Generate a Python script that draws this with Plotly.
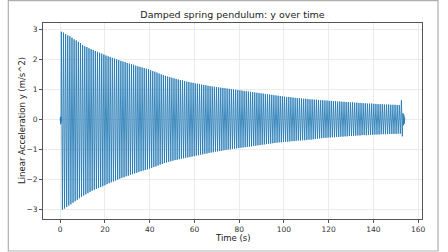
import plotly.graph_objects as go

# --- data ---
title = "Damped spring pendulum: y over time"
x_label = "Time (s)"
y_label = "Linear Acceleration y (m/s^2)"
x_ticks = [0, 20, 40, 60, 80, 100, 120, 140, 160]
y_ticks = [-3, -2, -1, 0, 1, 2, 3]

# start-up samples before oscillation (time, value)
head_t = [0.0, 0.1, 0.2, 0.3, 0.4]
head_y = [-0.05, 0.08, -0.17, 0.06, -0.10]

# oscillation: first peak time and cycle period (s)
first_peak_t = 0.5
cycle_period = 0.95

upper_peaks = [
    2.91, 2.88, 2.83, 2.79, 2.76, 2.71, 2.66, 2.62, 2.57, 2.53,
    2.47, 2.43, 2.40, 2.36, 2.33, 2.30, 2.27, 2.24, 2.21, 2.18,
    2.15, 2.12, 2.09, 2.07, 2.04, 2.02, 1.99, 1.97, 1.94, 1.92,
    1.90, 1.87, 1.85, 1.83, 1.81, 1.78, 1.76, 1.74, 1.72, 1.70,
    1.68, 1.66, 1.63, 1.60, 1.58, 1.55, 1.52, 1.49, 1.47, 1.44,
    1.42, 1.40, 1.38, 1.36, 1.34, 1.32, 1.30, 1.29, 1.27, 1.25,
    1.24, 1.22, 1.21, 1.19, 1.18, 1.17, 1.15, 1.14, 1.13, 1.11,
    1.10, 1.09, 1.08, 1.07, 1.06, 1.05, 1.04, 1.03, 1.02, 1.01,
    1.00, 0.99, 0.98, 0.97, 0.96, 0.95, 0.94, 0.93, 0.92, 0.91,
    0.90, 0.89, 0.88, 0.87, 0.86, 0.85, 0.84, 0.83, 0.82, 0.81,
    0.80, 0.79, 0.78, 0.77, 0.76, 0.75, 0.74, 0.74, 0.73, 0.72,
    0.71, 0.70, 0.70, 0.69, 0.68, 0.68, 0.67, 0.66, 0.66, 0.65,
    0.65, 0.64, 0.63, 0.63, 0.62, 0.62, 0.61, 0.61, 0.60, 0.60,
    0.59, 0.59, 0.58, 0.58, 0.57, 0.57, 0.56, 0.56, 0.55, 0.55,
    0.54, 0.54, 0.53, 0.53, 0.52, 0.52, 0.52, 0.51, 0.51, 0.50,
    0.50, 0.50, 0.49, 0.49, 0.49, 0.48, 0.48, 0.48, 0.47, 0.47,
]
lower_peaks = [
    -3.01, -2.97, -2.92, -2.87, -2.83, -2.78, -2.73, -2.68, -2.63, -2.58,
    -2.54, -2.50, -2.46, -2.42, -2.38, -2.35, -2.32, -2.29, -2.26, -2.23,
    -2.20, -2.16, -2.13, -2.10, -2.07, -2.04, -2.01, -1.98, -1.95, -1.93,
    -1.90, -1.88, -1.85, -1.83, -1.80, -1.78, -1.75, -1.73, -1.71, -1.69,
    -1.67, -1.64, -1.62, -1.59, -1.57, -1.54, -1.51, -1.49, -1.46, -1.44,
    -1.42, -1.40, -1.38, -1.36, -1.35, -1.33, -1.31, -1.30, -1.28, -1.27,
    -1.26, -1.24, -1.23, -1.21, -1.20, -1.18, -1.17, -1.15, -1.14, -1.12,
    -1.11, -1.10, -1.08, -1.07, -1.06, -1.05, -1.03, -1.02, -1.01, -1.00,
    -0.99, -0.98, -0.97, -0.96, -0.95, -0.94, -0.93, -0.92, -0.91, -0.90,
    -0.89, -0.88, -0.87, -0.86, -0.85, -0.84, -0.83, -0.82, -0.81, -0.80,
    -0.79, -0.78, -0.77, -0.77, -0.76, -0.75, -0.75, -0.74, -0.73, -0.73,
    -0.72, -0.71, -0.71, -0.70, -0.70, -0.69, -0.68, -0.68, -0.67, -0.66,
    -0.65, -0.64, -0.63, -0.62, -0.62, -0.61, -0.61, -0.60, -0.60, -0.59,
    -0.59, -0.58, -0.58, -0.57, -0.57, -0.56, -0.56, -0.55, -0.55, -0.54,
    -0.54, -0.53, -0.53, -0.53, -0.52, -0.52, -0.52, -0.51, -0.51, -0.51,
    -0.50, -0.50, -0.50, -0.50, -0.49, -0.49, -0.49, -0.49, -0.48, -0.48,
]

# end-of-recording samples (time, value)
tail_t = [152.5, 152.9, 153.2, 153.4, 153.6, 153.8, 154.0]
tail_y = [0.63, -0.57, 0.20, -0.20, 0.15, -0.15, 0.05]

# --- assemble the trace ---
t = list(head_t)
y = list(head_y)
for i, (u, l) in enumerate(zip(upper_peaks, lower_peaks)):
    tp = first_peak_t + i * cycle_period
    t += [tp, tp + cycle_period / 2]
    y += [u, l]
t += tail_t
y += tail_y

W, H = 448, 252
ml, mr, mt, mb = 43, 26, 23, 33
pw, ph = W - ml - mr, H - mt - mb

fig = go.Figure()
fig.add_trace(go.Scatter(x=t, y=y, mode="lines",
                         line=dict(color="#1f77b4", width=0.85),
                         showlegend=False))

axis_common = dict(
    showline=True, linecolor="#555", linewidth=1, mirror=True,
    ticks="outside", ticklen=3, tickwidth=1, tickcolor="#555",
    showgrid=True, gridcolor="#ebebeb", gridwidth=1,
    zeroline=False, tickfont=dict(size=7.5, color="#333"),
    automargin=False,
)

fig.update_layout(
    width=W, height=H,
    margin=dict(l=ml, r=mr, t=mt, b=mb, autoexpand=False),
    paper_bgcolor="white", plot_bgcolor="white",
    font=dict(family="DejaVu Sans", color="#222"),
    title=dict(text=title, x=(ml + pw / 2) / W, xanchor="center",
               y=1 - 15 / H, yanchor="middle", font=dict(size=9.5)),
    xaxis=dict(range=[-7.7, 161.7], tickvals=x_ticks, ticklabelstandoff=0,
               **axis_common),
    yaxis=dict(range=[-3.32, 3.2], tickvals=y_ticks, **axis_common),
)

# axis titles placed as in the reference
fig.add_annotation(text=x_label, xref="paper", yref="paper",
                   x=0.5, y=(mt + ph - 237.5) / ph, xanchor="center",
                   yanchor="middle", showarrow=False, font=dict(size=8.5))
fig.add_annotation(text=y_label, xref="paper", yref="paper",
                   x=(22 - ml) / pw, y=0.5, xanchor="center",
                   yanchor="middle", textangle=-90, showarrow=False,
                   font=dict(size=8.5))

# outer light frame around the figure
fig.add_shape(type="rect", xref="paper", yref="paper",
              x0=(8.3 - ml) / pw, x1=(438 - ml) / pw,
              y0=(mt + ph - 251) / ph, y1=(mt + ph - 0.7) / ph,
              line=dict(color="#b0b0b0", width=1.2), layer="below")

fig.write_html(
    "out.html",
    config={"displayModeBar": False},
    post_script="document.body.style.margin='0';document.body.style.padding='0';",
)
